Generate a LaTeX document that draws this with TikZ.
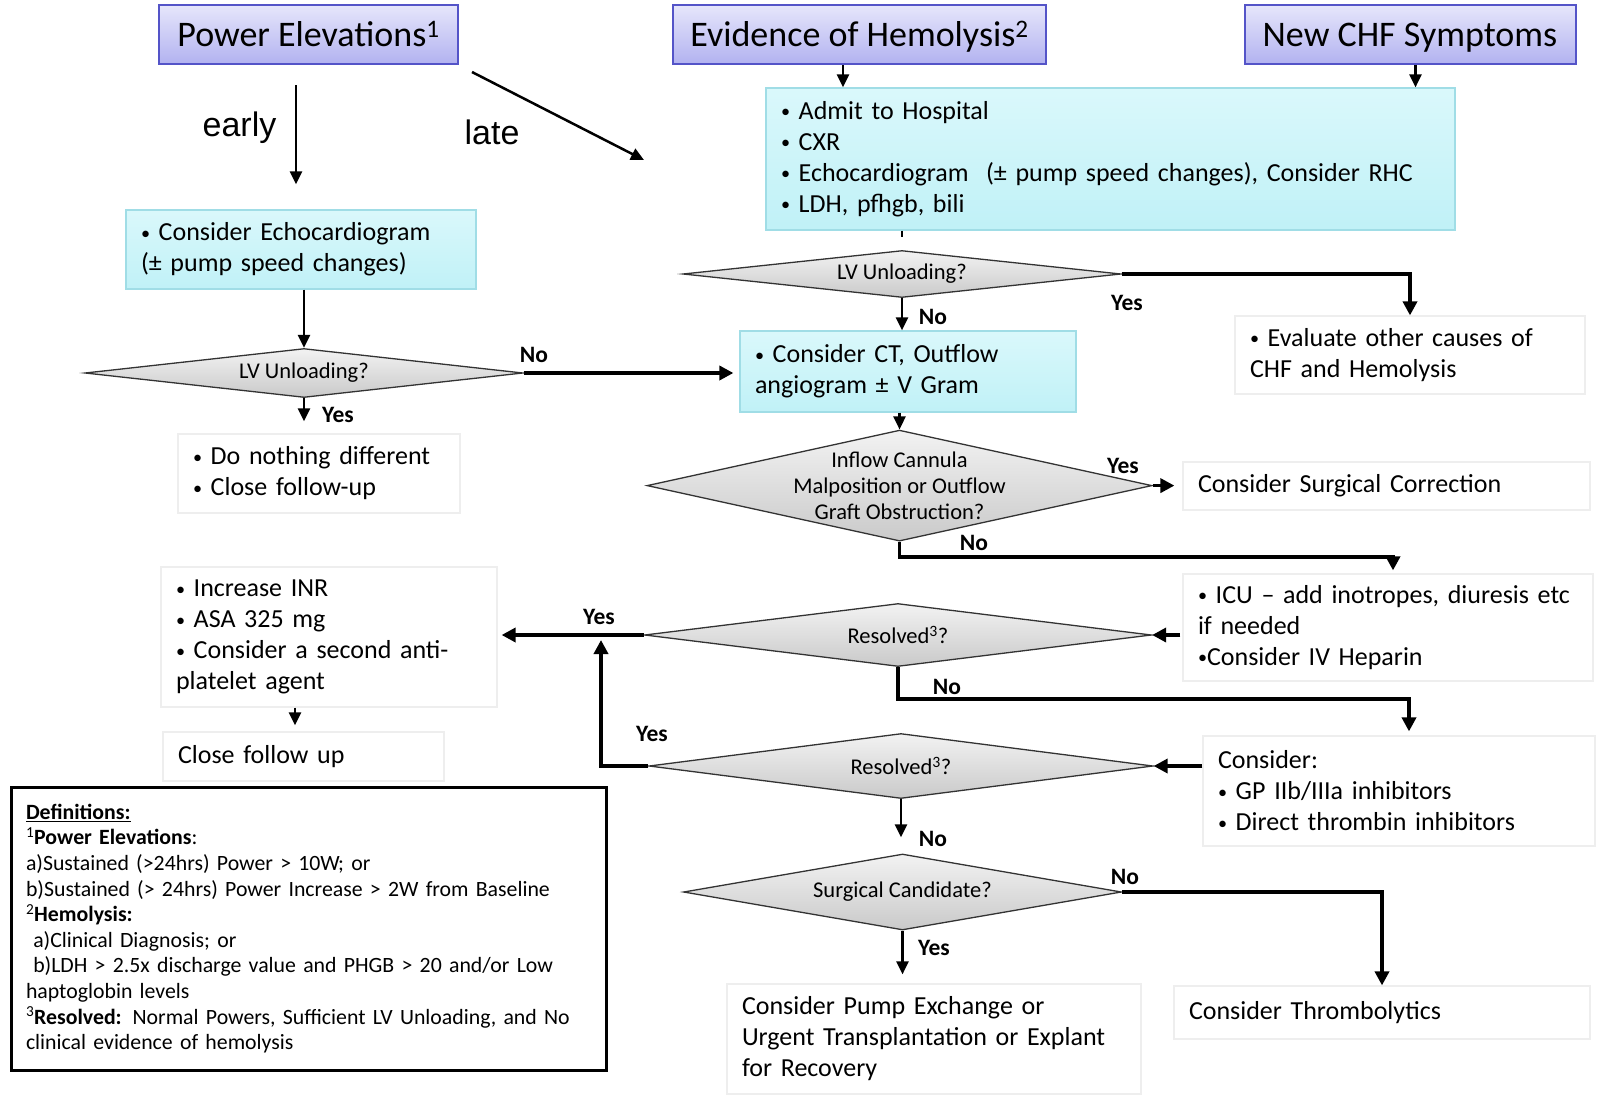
\documentclass[tikz,border=0pt]{standalone}
\usepackage{fontspec}
\usepackage{tikz}
\usetikzlibrary{arrows.meta,shapes.geometric}
\setmainfont{Carlito}
\newfontfamily\handfont{Liberation Sans}

\definecolor{titletop}{RGB}{230,230,251}
\definecolor{titlebot}{RGB}{178,178,240}
\definecolor{titleline}{RGB}{84,84,200}
\definecolor{cyantop}{RGB}{218,248,251}
\definecolor{cyanbot}{RGB}{192,241,247}
\definecolor{cyanline}{RGB}{160,221,230}
\definecolor{faintline}{RGB}{238,238,238}

% small list bullet
\newcommand{\bul}{\raisebox{0.12ex}{\scalebox{0.7}{•}}\ }

\tikzset{
  boxsize/.code 2 args={%
    \pgfmathsetlengthmacro\boxtw{#1pt-30pt}%
    \edef\next{\noexpand\tikzset{minimum width=#1pt, minimum height=#2pt, text width=\boxtw}}\next},
  body/.style={font=\fontsize{26}{31}\selectfont, align=left, inner xsep=15pt, inner ysep=0pt},
  topbox/.style={draw=titleline, line width=2pt, top color=titletop, bottom color=titlebot,
    font=\fontsize{36}{40}\selectfont, minimum height=59pt, inner sep=0pt,
    text height=25pt, text depth=1pt},
  cyanbox/.style={body, draw=cyanline, line width=1.2pt, top color=cyantop, bottom color=cyanbot},
  plainbox/.style={body, draw=faintline, line width=1.2pt, fill=white},
  defbox/.style={draw=black, line width=3pt, fill=white, align=left, inner xsep=15pt,
    font=\fontsize{21.8}{25.6}\selectfont},
  decision/.style={diamond, aspect=9, inner sep=0pt, draw=black!80, line width=1.3pt,
    top color=gray!10, bottom color=gray!42, align=center, font=\fontsize{22.5}{26}\selectfont},
  yn/.style={font=\fontsize{23.5}{24}\selectfont\bfseries, inner sep=0pt},
  hand/.style={font=\handfont\fontsize{34}{36}\selectfont, inner sep=0pt},
  arr/.style={-{Triangle[length=13pt,width=12pt]}, line width=2.5pt},
  arrb/.style={-{Triangle[length=14pt,width=14pt]}, line width=3.5pt},
}

\begin{document}
\begin{tikzpicture}[x=1pt,y=-1pt]
\fill[white] (0,0) rectangle (1598,1095);
\useasboundingbox (0,0) rectangle (1598,1095);

% triggers
\node[topbox, minimum width=299pt] (pe) at (308.5,34.5) {Power Elevations\textsuperscript{1}};
\node[topbox, minimum width=373pt] (eh) at (859.5,34.5) {Evidence of Hemolysis\textsuperscript{2}};
\node[topbox, minimum width=331pt] (chf) at (1410,34.5) {New CHF Symptoms};

% work-up boxes
\node[cyanbox, boxsize={350}{79}] (echo) at (301,249.5)
  {\bul Consider Echocardiogram\\(± pump speed changes)};
\node[cyanbox, boxsize={689}{142}] (admit) at (1110.5,159)
  {\bul Admit to Hospital\\\bul CXR\\\bul Echocardiogram\ \ (± pump speed changes), Consider RHC\\\bul LDH, pfhgb, bili};
\node[cyanbox, boxsize={336}{81}] (ct) at (908,371.5)
  {\bul Consider CT, Outflow\\angiogram ± V Gram};

% outcome boxes
\node[plainbox, boxsize={282}{79}] (same) at (319,473.5)
  {\bul Do nothing different\\\bul Close follow-up};
\node[plainbox, boxsize={350}{78}] (other) at (1410,355)
  {\bul Evaluate other causes of\\CHF and Hemolysis};
\node[plainbox, boxsize={407}{48}] (surg) at (1386.5,486) {Consider Surgical Correction};
\node[plainbox, boxsize={410}{107}] (icu) at (1388,627.5)
  {\bul ICU – add inotropes, diuresis etc\\if needed\\\raisebox{0.12ex}{\scalebox{0.7}{•}}Consider IV Heparin};
\node[plainbox, boxsize={336}{140}] (inr) at (329,637)
  {\bul Increase INR\\\bul ASA 325 mg\\\bul Consider a second anti-\\platelet agent};
\node[plainbox, boxsize={281}{49}] (close) at (303.5,756.5) {Close follow up};
\node[plainbox, boxsize={392}{110}] (cons) at (1399,791)
  {Consider:\\\bul GP IIb/IIIa inhibitors\\\bul Direct thrombin inhibitors};
\node[plainbox, boxsize={414}{110}] (pump) at (934,1039)
  {Consider Pump Exchange or\\Urgent Transplantation or Explant\\for Recovery};
\node[plainbox, boxsize={416}{53}] (thr) at (1382,1012.5) {Consider Thrombolytics};

% decisions
\node[decision, minimum width=438pt, minimum height=49pt] (lvA) at (304,373) {LV Unloading?};
\node[decision, minimum width=438pt, minimum height=47pt] (lvB) at (902,274) {LV Unloading?};
\node[decision, minimum width=505pt, minimum height=111pt, inner ysep=-25pt] (cann) at (899.5,485.6)
  {Inflow Cannula\\Malposition or Outflow\\Graft Obstruction?};
\node[decision, minimum width=507pt, minimum height=63pt] (resA) at (898,635) {Resolved\textsuperscript{3}?};
\node[decision, minimum width=504pt, minimum height=65pt] (resB) at (901,766) {Resolved\textsuperscript{3}?};
\node[decision, minimum width=438pt, minimum height=76pt] (cand) at (902.5,892) {Surgical Candidate?};

% definitions
\node[defbox, minimum width=595pt, minimum height=283pt, text width=565pt] (defs) at (308.5,928.5)
  {\textbf{\underline{Definitions:}}\\
   \textsuperscript{1}\textbf{Power Elevations}:\\
   a)Sustained (>24hrs) Power > 10W; or\\
   b)Sustained (> 24hrs) Power Increase > 2W from Baseline\\
   \textsuperscript{2}\textbf{Hemolysis:}\\
   \ a)Clinical Diagnosis; or\\
   \ b)LDH > 2.5x discharge value and PHGB > 20 and/or Low\\
   haptoglobin levels\\
   \textsuperscript{3}\textbf{Resolved:} Normal Powers, Sufficient LV Unloading, and No\\
   clinical evidence of hemolysis};

% power elevations: early / late
\draw[arr, shorten <=20pt, shorten >=25pt] ([xshift=-12.5pt]pe.south) -- ([xshift=-12.5pt]pe.south |- echo.north);
\node[hand] (early) at (239.5,127.4) {early};
\coordinate (lateEnd) at (644,160);
\draw[arr] ([shift={(13pt,-7pt)}]pe.south east) -- (lateEnd);
\node[hand] (late) at (492,132.5) {late};

% hemolysis and CHF into admission
\draw[arr] ([xshift=-16.5pt]eh.south) -- ([xshift=-16.5pt]eh.south |- admit.north);
\draw[arr] ([xshift=5.5pt]chf.south) -- ([xshift=5.5pt]chf.south |- admit.north);
\draw[line width=2pt] (admit.south -| lvB.north) -- ++(0,6);

% early branch
\draw[arr] (echo.south -| lvA.north) -- (lvA.north);
\draw[arr, shorten >=12pt] (lvA.south) -- (lvA.south |- same.north);
\draw[arrb, shorten >=6pt] (lvA.east) -- (lvA.east -| ct.west);
\node[yn] (yesA) at (338,415) {Yes};
\node[yn] (noA) at (534,355) {No};

% LV unloading after admission
\draw[arr] (lvB.south) -- (lvB.south |- ct.north);
\draw[arrb] (lvB.east) -| (other.north);
\node[yn] (noB) at (933,317) {No};
\node[yn] (yesB) at (1127,303) {Yes};

% cannula / graft
\draw[arr] (ct.south -| cann.north) -- (cann.north);
\draw[arrb, shorten >=8pt] (cann.east) -- (cann.east -| surg.west);
\draw[arrb, shorten >=3pt] (cann.south) -- ++(0,15) -| ([xshift=5pt]icu.north);
\node[yn] (yesC) at (1123,466) {Yes};
\node[yn] (noC) at (974,543) {No};

% first resolved check
\draw[arrb, shorten <=2pt] (icu.west |- resA.east) -- (resA.east);
\draw[arrb, shorten >=4pt] (resA.west) -- (resA.west -| inr.east);
\draw[arr, shorten >=6pt] ([xshift=-8.5pt]close.north |- inr.south) -- ([xshift=-8.5pt]close.north);
\draw[arrb, shorten >=4pt] (resA.south) -- ++(0,32) -| ([xshift=10pt]cons.north);
\node[yn] (yesD) at (599,617) {Yes};
\node[yn] (noD) at (947,687) {No};

% second resolved check
\draw[arrb] (cons.west |- resB.east) -- (resB.east);
\coordinate (yesJoin) at (601,640);
\draw[arrb] (resB.west) -| (yesJoin);
\draw[arr, shorten >=16pt] (resB.south) -- (resB.south |- cand.north);
\node[yn] (yesE) at (652,734) {Yes};
\node[yn] (noE) at (933,839) {No};

% surgical candidate
\draw[arr, shorten >=9pt] (cand.south) -- (cand.south |- pump.north);
\draw[arrb] (cand.east) -| (thr.north);
\node[yn] (yesF) at (934,948) {Yes};
\node[yn] (noF) at (1125,877) {No};
\end{tikzpicture}
\end{document}
